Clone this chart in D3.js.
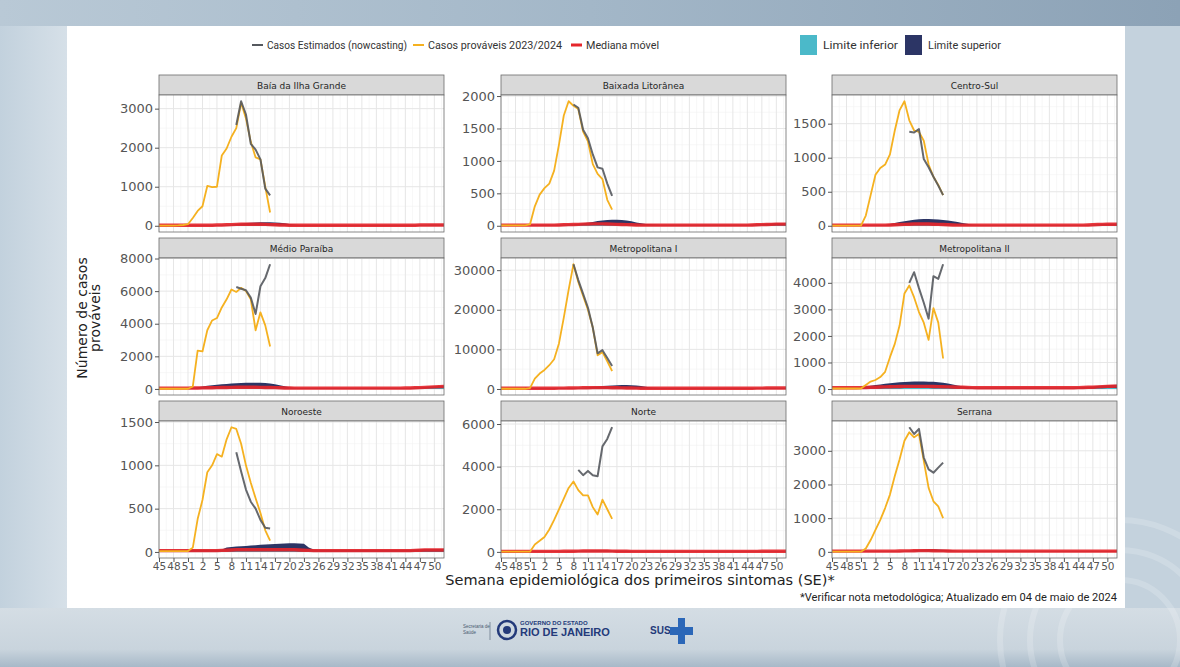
<!DOCTYPE html>
<html>
<head>
<meta charset="utf-8">
<script src="https://d3js.org/d3.v7.min.js"></script>
<style>
  body { margin: 0; background: #bccad6; }
  svg { display: block; }
</style>
</head>
<body>
<svg id="chart" width="1180" height="667"></svg>
<script>
// semanas epidemiologicas: SE45/2023 ate SE52/2024
const semanas = [45,46,47,48,49,50,51,52,
  1,2,3,4,5,6,7,8,9,10,11,12,13,14,15,16,17,18,19,20,21,22,23,24,25,26,
  27,28,29,30,31,32,33,34,35,36,37,38,39,40,41,42,43,44,45,46,47,48,49,50,51,52];

const regioes = ["Baía da Ilha Grande", "Baixada Litorânea", "Centro-Sul",
  "Médio Paraíba", "Metropolitana I", "Metropolitana II",
  "Noroeste", "Norte", "Serrana"];

// casos provaveis 2023/2024 (SE45 ate SE16)
const casosProvaveis = [
  [5,5,5,5,10,20,40,200,380,500,1020,990,1000,1800,1980,2280,2500,3150,2750,2150,1750,1700,1000,340],
  [5,5,5,5,5,5,20,300,480,580,650,850,1250,1700,1920,1850,1800,1450,1300,950,800,720,400,250],
  [3,3,3,3,3,3,3,150,450,750,850,900,1050,1400,1700,1830,1550,1400,1380,1250,900,720,600,450],
  [10,10,10,10,10,10,10,150,2350,2300,3600,4200,4350,5000,5500,6100,5950,6200,6000,5500,3600,4700,3900,2600],
  [50,50,50,50,50,50,200,2600,3900,4800,6000,7500,11500,18000,25000,31500,27000,23500,20000,15500,8500,9300,7000,4500],
  [20,20,20,20,20,20,20,150,280,340,450,650,1200,1700,2400,3600,3900,3450,2900,2500,1850,3050,2500,1150],
  [10,10,10,10,10,10,10,50,380,600,920,1000,1130,1100,1300,1440,1420,1250,1000,800,620,450,250,130],
  [10,10,10,10,10,10,10,350,520,700,1050,1500,2000,2500,3000,3300,2900,2650,2650,2100,1750,2450,2000,1550],
  [5,5,5,5,5,5,5,100,350,650,950,1300,1700,2250,2750,3300,3550,3400,3500,2700,1900,1500,1350,1000]
];

// casos estimados (nowcasting)
const casosEstimados = [
  [null,null,null,null,null,null,null,null,null,null,null,null,null,null,null,null,2580,3190,2850,2100,1950,1700,950,780],
  [null,null,null,null,null,null,null,null,null,null,null,null,null,null,null,1870,1820,1480,1350,1100,900,880,650,460],
  [null,null,null,null,null,null,null,null,null,null,null,null,null,null,null,null,1380,1370,1420,980,860,720,590,450],
  [null,null,null,null,null,null,null,null,null,null,null,null,null,null,null,null,6250,6150,6050,5600,4600,6300,6800,7650],
  [null,null,null,null,null,null,null,null,null,null,null,null,null,null,null,31500,27500,24000,20500,15500,9000,9800,7800,5800],
  [null,null,null,null,null,null,null,null,null,null,null,null,null,null,null,null,4000,4400,3800,3250,2650,4250,4150,4700],
  [null,null,null,null,null,null,null,null,null,null,null,null,null,null,null,null,1150,930,720,580,500,370,280,270],
  [null,null,null,null,null,null,null,null,null,null,null,null,null,null,null,null,3850,3600,3800,3600,3550,4950,5300,5850],
  [null,null,null,null,null,null,null,null,null,null,null,null,null,null,null,null,3700,3500,3650,2800,2450,2350,2500,2650]
];

const medianaMovel = [
  [15,15,15,15,15,15,15,15,15,15, 15,15,18,20,25,30,35,40,40,40, 40,38,35,30,25,20,18,15,15,15,
   15,15,15,15,15,15,15,15,15,15, 15,15,15,15,15,15,15,15,15,15, 15,15,15,15,18,20,20,20,20,20],
  [10,10,10,10,10,10,10,10,10,10, 10,10,12,15,18,20,22,25,28,30, 30,30,28,25,22,20,18,15,12,10,
   10,10,10,10,10,10,10,10,10,10, 10,10,10,10,10,10,10,10,10,10, 10,10,12,15,18,20,22,25,25,25],
  [10,10,10,10,10,10,10,10,10,10, 10,10,12,15,18,20,22,25,25,25, 25,22,20,18,15,12,10,10,10,10,
   10,10,10,10,10,10,10,10,10,10, 10,10,10,10,10,10,10,10,10,10, 10,10,10,12,15,18,20,22,22,22],
  [50,50,50,50,50,50,50,55,60,65, 70,75,80,85,90,95,100,100,100,100, 100,95,90,85,80,70,60,55,50,50,
   50,50,50,50,50,50,50,50,50,50, 50,50,50,50,50,50,50,50,50,50, 50,55,60,70,80,95,110,125,140,150],
  [200,200,200,200,200,200,200,200,200,200, 200,200,210,220,240,260,280,300,320,330, 340,340,330,320,300,280,260,240,220,200,
   200,200,200,200,200,200,200,200,200,200, 200,200,200,200,200,200,200,200,200,200, 200,200,200,210,220,230,240,250,250,250],
  [50,50,50,50,50,50,55,60,65,70, 75,80,85,90,95,100,100,100,100,100, 100,95,90,85,80,75,70,65,60,55,
   50,50,50,50,50,50,50,50,50,50, 50,50,50,50,50,50,50,50,50,50, 50,55,60,65,70,80,90,100,105,110],
  [15,15,15,15,15,15,15,15,15,15, 15,15,15,18,20,22,25,25,25,25, 25,25,25,25,25,25,25,25,25,22,
   20,18,15,15,15,15,15,15,15,15, 15,15,15,15,15,15,15,15,15,15, 15,15,15,18,20,22,22,22,22,22],
  [25,25,25,25,25,25,25,25,25,25, 25,25,25,28,30,32,35,38,40,40, 40,40,38,35,32,30,28,25,25,25,
   25,25,25,25,25,25,25,25,25,25, 25,25,25,25,25,25,25,25,25,25, 25,25,25,25,28,30,30,30,30,30],
  [20,20,20,20,20,20,20,20,20,20, 20,20,20,22,25,28,30,32,35,35, 35,32,30,28,25,22,20,20,20,20,
   20,20,20,20,20,20,20,20,20,20, 20,20,20,20,20,20,20,20,20,20, 20,20,20,20,20,20,20,20,20,20]
];

const limiteInferior = [
  [0,0,0,0,0,0,0,0,0,0, 0,0,2,4,6,8,10,12,12,12, 12,10,8,6,4,2,0,0,0,0,
   0,0,0,0,0,0,0,0,0,0, 0,0,0,0,0,0,0,0,0,0, 0,0,0,0,2,4,4,4,4,4],
  [0,0,0,0,0,0,0,0,0,0, 0,0,2,4,6,8,10,12,12,12, 12,12,10,8,6,4,2,0,0,0,
   0,0,0,0,0,0,0,0,0,0, 0,0,0,0,0,0,0,0,0,0, 0,0,2,4,6,8,8,8,8,8],
  [0,0,0,0,0,0,0,0,0,0, 0,0,2,4,6,8,10,10,10,10, 10,8,6,4,2,0,0,0,0,0,
   0,0,0,0,0,0,0,0,0,0, 0,0,0,0,0,0,0,0,0,0, 0,0,0,2,4,6,6,6,6,6],
  [10,10,10,10,10,10,10,12,15,18, 20,22,25,28,30,32,35,35,35,35, 35,32,30,28,25,20,15,12,10,10,
   10,10,10,10,10,10,10,10,10,10, 10,10,10,10,10,10,10,10,10,10, 10,12,15,20,25,30,35,40,45,50],
  [50,50,50,50,50,50,50,50,50,50, 50,50,55,60,70,80,90,100,110,115, 120,120,115,110,100,90,80,70,60,50,
   50,50,50,50,50,50,50,50,50,50, 50,50,50,50,50,50,50,50,50,50, 50,50,50,55,60,65,70,75,75,75],
  [10,10,10,10,10,10,12,15,18,20, 22,25,28,30,32,35,35,35,35,35, 35,32,30,28,25,22,20,18,15,12,
   10,10,10,10,10,10,10,10,10,10, 10,10,10,10,10,10,10,10,10,10, 10,12,15,18,20,25,30,35,38,40],
  [2,2,2,2,2,2,2,2,2,2, 2,2,2,4,5,6,8,8,8,8, 8,8,8,8,8,8,8,8,8,6,
   5,4,2,2,2,2,2,2,2,2, 2,2,2,2,2,2,2,2,2,2, 2,2,2,4,5,6,6,6,6,6],
  [5,5,5,5,5,5,5,5,5,5, 5,5,5,6,8,10,12,14,15,15, 15,15,14,12,10,8,6,5,5,5,
   5,5,5,5,5,5,5,5,5,5, 5,5,5,5,5,5,5,5,5,5, 5,5,5,5,6,8,8,8,8,8],
  [2,2,2,2,2,2,2,2,2,2, 2,2,2,4,6,8,10,12,14,14, 14,12,10,8,6,4,2,2,2,2,
   2,2,2,2,2,2,2,2,2,2, 2,2,2,2,2,2,2,2,2,2, 2,2,2,2,2,2,2,2,2,2]
];

const limiteSuperior = [
  [20,20,20,20,20,20,20,20,20,20, 20,20,22,25,28,35,45,60,70,78, 85,88,90,88,85,78,65,45,30,22,
   20,20,20,20,20,20,20,20,20,20, 20,20,20,20,20,20,20,20,20,20, 20,20,20,22,25,28,30,30,30,30],
  [15,15,15,15,15,15,15,15,15,15, 15,15,18,20,22,25,30,38,48,60, 72,82,88,92,92,88,80,68,52,38,
   28,22,18,15,15,15,15,15,15,15, 15,15,15,15,15,15,15,15,15,15, 15,15,18,22,28,32,36,40,40,40],
  [12,12,12,12,12,12,12,12,12,12, 12,12,25,40,55,68,78,88,95,98, 98,96,92,86,78,68,56,42,28,18,
   14,12,12,12,12,12,12,12,12,12, 12,12,12,12,12,12,12,12,12,12, 12,12,12,15,18,22,25,28,28,28],
  [60,60,60,60,60,60,60,80,110,150, 190,230,260,290,310,330,345,360,375,380, 380,375,360,330,280,220,160,110,75,60,
   60,60,60,60,60,60,60,60,60,60, 60,60,60,60,60,60,60,60,60,60, 60,65,75,90,105,125,145,165,185,200],
  [250,250,250,250,250,250,250,250,250,250, 250,250,260,270,280,300,330,380,450,540, 640,740,830,900,960,1000,990,940,850,720,
   560,400,300,260,250,250,250,250,250,250, 250,250,250,250,250,250,250,250,250,250, 250,250,250,260,270,280,290,300,300,300],
  [60,60,60,60,60,60,80,100,125,150, 175,200,220,240,255,265,275,280,280,280, 278,270,255,235,205,170,135,105,85,70,
   60,60,60,60,60,60,60,60,60,60, 60,60,60,60,60,60,60,60,60,60, 60,65,75,85,95,110,125,140,150,160],
  [25,25,25,25,25,25,25,25,25,25, 25,25,25,28,50,58,62,66,70,74, 78,82,85,88,91,94,97,100,100,98,
   95,50,28,25,25,25,25,25,25,25, 25,25,25,25,25,25,25,25,25,25, 25,25,25,28,32,35,35,35,35,35],
  [30,30,30,30,30,30,30,30,30,30, 30,30,30,35,40,48,55,62,68,72, 75,75,72,68,62,55,48,40,35,30,
   30,30,30,30,30,30,30,30,30,30, 30,30,30,30,30,30,30,30,30,30, 30,30,30,30,32,35,35,35,35,35],
  [25,25,25,25,25,25,25,25,25,25, 25,25,25,25,28,32,40,50,60,68, 74,75,72,65,55,45,35,28,25,25,
   25,25,25,25,25,25,25,25,25,25, 25,25,25,25,25,25,25,25,25,25, 25,25,25,25,25,25,25,25,25,25]
];

const legenda = [
  {nome: "Casos Estimados (nowcasting)", tipo: "linha", cor: "#55595e", x: 252, largura: 140},
  {nome: "Casos prováveis 2023/2024", tipo: "linha", cor: "#f5b120", x: 413, largura: 134},
  {nome: "Mediana móvel", tipo: "linha", cor: "#e5262b", x: 571, largura: 73},
  {nome: "Limite inferior", tipo: "caixa", cor: "#4bb9c9", x: 800, largura: 75},
  {nome: "Limite superior", tipo: "caixa", cor: "#2c3565", x: 905, largura: 73}
];

const cores = {estimado: "#55595e", provavel: "#f5b120", mediana: "#e5262b", inferior: "#4bb9c9", superior: "#2c3565"};

const W = 1180, H = 667;
const colX = [159, 501, 832];
const panelW = 285, stripH = 20, panelH = 137;
const top0 = 75, rowStep = 163;
const fonte = "'DejaVu Sans', sans-serif";
const fonteEstreita = "'Roboto', sans-serif";

const svg = d3.select("#chart");
const defs = svg.append("defs");

// ---- fundo do slide ----
const gTopo = defs.append("linearGradient").attr("id", "gTopo").attr("x1", 0).attr("x2", 1).attr("y1", 0).attr("y2", 0);
gTopo.append("stop").attr("offset", 0).attr("stop-color", "#b9c9d6");
gTopo.append("stop").attr("offset", 0.5).attr("stop-color", "#a3b7c8");
gTopo.append("stop").attr("offset", 1).attr("stop-color", "#8ca2b6");

const gBase = defs.append("linearGradient").attr("id", "gBase").attr("x1", 0).attr("x2", 0).attr("y1", 0).attr("y2", 1);
gBase.append("stop").attr("offset", 0).attr("stop-color", "#d4dde4");
gBase.append("stop").attr("offset", 0.7).attr("stop-color", "#c9d4dd");
gBase.append("stop").attr("offset", 1).attr("stop-color", "#a7b9c8");

const gLado = defs.append("linearGradient").attr("id", "gLado").attr("x1", 0).attr("x2", 1).attr("y1", 0).attr("y2", 0);
gLado.append("stop").attr("offset", 0).attr("stop-color", "#c2d1dd");
gLado.append("stop").attr("offset", 1).attr("stop-color", "#d6e0e8");

svg.append("rect").attr("width", W).attr("height", H).attr("fill", "#c3d0db");
svg.append("rect").attr("width", W).attr("height", 26).attr("fill", "url(#gTopo)");
svg.append("rect").attr("x", 0).attr("y", 26).attr("width", 67).attr("height", 582).attr("fill", "url(#gLado)");
svg.append("rect").attr("x", 1125).attr("y", 26).attr("width", 55).attr("height", 582).attr("fill", "#c4d2dd");
svg.append("rect").attr("x", 0).attr("y", 608).attr("width", W).attr("height", 59).attr("fill", "url(#gBase)");
// arcos decorativos
[60, 90, 120].forEach(function(r) {
  svg.append("circle").attr("cx", 1120).attr("cy", 640).attr("r", r)
    .attr("fill", "none").attr("stroke", "#ffffff").attr("stroke-opacity", 0.18).attr("stroke-width", 6);
});

// cartao branco
svg.append("rect").attr("x", 67).attr("y", 26).attr("width", 1058).attr("height", 582).attr("fill", "#ffffff");

// ---- legenda ----
const leg = svg.append("g").attr("class", "legend");
legenda.forEach(function(d) {
  let tx;
  if (d.tipo === "linha") {
    leg.append("line").attr("x1", d.x).attr("x2", d.x + 11).attr("y1", 45).attr("y2", 45)
      .attr("stroke", d.cor).attr("stroke-width", d.cor === cores.mediana ? 3 : 2);
    tx = d.x + 15;
  } else {
    leg.append("rect").attr("x", d.x).attr("y", 35).attr("width", 17).attr("height", 20).attr("fill", d.cor);
    tx = d.x + 23;
  }
  leg.append("text").attr("x", tx).attr("y", 49)
    .attr("textLength", d.largura).attr("lengthAdjust", "spacingAndGlyphs").text(d.nome);
});
leg.selectAll("text").attr("font-family", fonteEstreita).attr("font-size", 11.5).attr("fill", "#333");

// ---- paineis ----
const x = d3.scaleLinear().domain([0, semanas.length - 1]).range([0, panelW]);
const xMaj = d3.range(0, semanas.length, 3);
const xMin = xMaj.map(function(v) { return v + 1.5; }).filter(function(v) { return v < semanas.length - 1; });

regioes.forEach(function(nome, i) {
  const col = i % 3, row = Math.floor(i / 3);
  const g = svg.append("g").attr("transform", "translate(" + colX[col] + "," + (top0 + row * rowStep) + ")");

  const prov = casosProvaveis[i].map(function(v, k) { return {k: k, v: v}; });
  const est = casosEstimados[i].map(function(v, k) { return {k: k, v: v}; });
  const serie = semanas.map(function(s, k) {
    return {k: k, med: medianaMovel[i][k], inf: limiteInferior[i][k], sup: limiteSuperior[i][k]};
  });

  const todos = casosProvaveis[i].concat(casosEstimados[i].filter(function(v) { return v !== null; }),
    medianaMovel[i], limiteInferior[i], limiteSuperior[i]);
  const ext = d3.extent(todos);
  const r = ext[1] - ext[0];
  const y = d3.scaleLinear().domain([ext[0] - 0.05 * r, ext[1] + 0.05 * r]).range([panelH, 0]);
  const yMaj = y.ticks(4);
  const passo = yMaj[1] - yMaj[0];
  const yMin = [yMaj[0] - passo / 2].concat(yMaj.map(function(v) { return v + passo / 2; }))
    .filter(function(v) { return v > y.domain()[0] && v < y.domain()[1]; });

  // faixa com titulo
  g.append("rect").attr("width", panelW).attr("height", stripH)
    .attr("fill", "#d9d9d9").attr("stroke", "#6b6b6b").attr("stroke-width", 0.8);
  g.append("text").attr("x", panelW / 2).attr("y", stripH / 2 + 3.5).attr("text-anchor", "middle")
    .attr("font-family", fonte).attr("font-size", 9).attr("fill", "#262626").text(nome);

  const p = g.append("g").attr("transform", "translate(0," + stripH + ")");
  defs.append("clipPath").attr("id", "clip" + i).append("rect").attr("width", panelW).attr("height", panelH);

  p.append("rect").attr("width", panelW).attr("height", panelH).attr("fill", "#fff");

  // grade
  const grade = p.append("g");
  grade.selectAll(".xmin").data(xMin).join("line")
    .attr("x1", function(d) { return x(d); }).attr("x2", function(d) { return x(d); })
    .attr("y1", 0).attr("y2", panelH).attr("stroke", "#f2f2f2").attr("stroke-width", 0.6);
  grade.selectAll(".ymin").data(yMin).join("line")
    .attr("y1", function(d) { return y(d); }).attr("y2", function(d) { return y(d); })
    .attr("x1", 0).attr("x2", panelW).attr("stroke", "#f2f2f2").attr("stroke-width", 0.6);
  grade.selectAll(".xmaj").data(xMaj).join("line")
    .attr("x1", function(d) { return x(d); }).attr("x2", function(d) { return x(d); })
    .attr("y1", 0).attr("y2", panelH).attr("stroke", "#e6e6e6").attr("stroke-width", 1);
  grade.selectAll(".ymaj").data(yMaj).join("line")
    .attr("y1", function(d) { return y(d); }).attr("y2", function(d) { return y(d); })
    .attr("x1", 0).attr("x2", panelW).attr("stroke", "#e6e6e6").attr("stroke-width", 1);

  const plot = p.append("g").attr("clip-path", "url(#clip" + i + ")");

  plot.append("path").datum(serie)
    .attr("fill", cores.superior)
    .attr("d", d3.area().x(function(d) { return x(d.k); }).y0(y(0)).y1(function(d) { return y(d.sup); }));
  plot.append("path").datum(serie)
    .attr("fill", cores.inferior)
    .attr("d", d3.area().x(function(d) { return x(d.k); }).y0(y(0)).y1(function(d) { return y(d.inf); }));
  plot.append("path").datum(serie)
    .attr("fill", "none").attr("stroke", cores.mediana).attr("stroke-width", 3.4).attr("stroke-opacity", 0.92)
    .attr("d", d3.line().x(function(d) { return x(d.k); }).y(function(d) { return y(d.med); }));
  plot.append("path").datum(prov)
    .attr("fill", "none").attr("stroke", cores.provavel).attr("stroke-width", 1.8).attr("stroke-linejoin", "round")
    .attr("d", d3.line().x(function(d) { return x(d.k); }).y(function(d) { return y(d.v); }));
  plot.append("path").datum(est)
    .attr("fill", "none").attr("stroke", cores.estimado).attr("stroke-width", 2).attr("stroke-opacity", 0.9)
    .attr("stroke-linejoin", "round")
    .attr("d", d3.line().defined(function(d) { return d.v !== null; })
      .x(function(d) { return x(d.k); }).y(function(d) { return y(d.v); }));

  p.append("rect").attr("width", panelW).attr("height", panelH)
    .attr("fill", "none").attr("stroke", "#6b6b6b").attr("stroke-width", 0.8);

  // eixo y
  const ay = p.append("g").call(d3.axisLeft(y).tickValues(yMaj).tickSize(4).tickPadding(2).tickFormat(d3.format("d")));
  ay.select(".domain").remove();
  ay.selectAll("line").attr("stroke", "#555");
  ay.selectAll("text").attr("font-family", fonte).attr("font-size", 13).attr("fill", "#555");

  // eixo x apenas na ultima linha
  if (row === 2) {
    const ax = p.append("g").attr("transform", "translate(0," + panelH + ")")
      .call(d3.axisBottom(x).tickValues(xMaj).tickSize(4).tickPadding(1)
        .tickFormat(function(k) { return semanas[k]; }));
    ax.select(".domain").remove();
    ax.selectAll("line").attr("stroke", "#555");
    ax.selectAll("text").attr("font-family", fonte).attr("font-size", 10.5).attr("fill", "#555");
  }
});

// ---- titulos dos eixos ----
const tituloY = svg.append("text").attr("transform", "translate(87,318) rotate(-90)")
  .attr("text-anchor", "middle").attr("font-family", fonte).attr("font-size", 14).attr("fill", "#222");
tituloY.append("tspan").attr("x", 0).attr("dy", 0).text("Número de casos");
tituloY.append("tspan").attr("x", 0).attr("dy", "0.9em").text("prováveis");

svg.append("text").attr("x", 640).attr("y", 585).attr("text-anchor", "middle")
  .attr("font-family", fonte).attr("font-size", 14.5).attr("fill", "#222")
  .text("Semana epidemiológica dos primeiros sintomas (SE)*");

svg.append("text").attr("x", 1117).attr("y", 601).attr("text-anchor", "end")
  .attr("font-family", fonteEstreita).attr("font-size", 10).attr("fill", "#222")
  .attr("textLength", 317).attr("lengthAdjust", "spacingAndGlyphs")
  .text("*Verificar nota metodológica; Atualizado em 04 de maio de 2024");

// ---- logos do rodape ----
const rod = svg.append("g").attr("font-family", "'Liberation Sans', sans-serif");
rod.append("text").attr("x", 463).attr("y", 628).attr("font-size", 4.5).attr("fill", "#4a5a70").text("Secretaria de");
rod.append("text").attr("x", 463).attr("y", 634).attr("font-size", 4.5).attr("fill", "#4a5a70").text("Saúde");
rod.append("line").attr("x1", 490).attr("x2", 490).attr("y1", 622).attr("y2", 640).attr("stroke", "#4a5a70").attr("stroke-width", 0.6);
rod.append("circle").attr("cx", 507).attr("cy", 630).attr("r", 9).attr("fill", "none").attr("stroke", "#233a7a").attr("stroke-width", 2.5);
rod.append("circle").attr("cx", 507).attr("cy", 630).attr("r", 4).attr("fill", "#233a7a");
rod.append("text").attr("x", 520).attr("y", 625).attr("font-size", 6).attr("font-weight", "bold").attr("fill", "#233a7a").text("GOVERNO DO ESTADO");
rod.append("text").attr("x", 520).attr("y", 636).attr("font-size", 11).attr("font-weight", "bold").attr("fill", "#233a7a").text("RIO DE JANEIRO");
rod.append("text").attr("x", 650).attr("y", 634).attr("font-size", 10).attr("font-weight", "bold").attr("fill", "#233a7a").text("SUS");
rod.append("rect").attr("x", 678).attr("y", 618).attr("width", 7).attr("height", 26).attr("fill", "#2b67b8");
rod.append("rect").attr("x", 670).attr("y", 627).attr("width", 23).attr("height", 8).attr("fill", "#2b67b8");
</script>
</body>
</html>
